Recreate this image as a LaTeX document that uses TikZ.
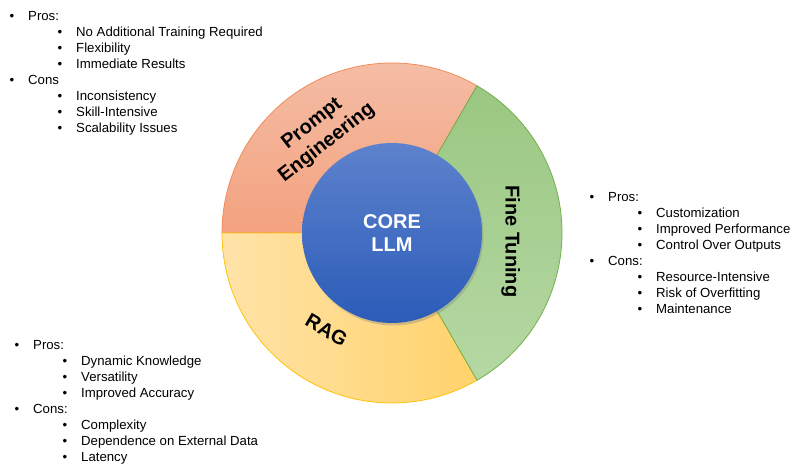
\documentclass[tikz,border=0pt]{standalone}
\usepackage{fontspec}
\setmainfont{Liberation Sans}
\usepackage{enumitem}
\usepackage{xcolor}
\usetikzlibrary{shadows}
\definecolor{pe-top}{HTML}{F5C0AA}
\definecolor{pe-bottom}{HTML}{F3A27F}
\definecolor{pe-line}{HTML}{F08A55}
\definecolor{ft-top}{HTML}{9AC781}
\definecolor{ft-bottom}{HTML}{B5D8A4}
\definecolor{ft-line}{HTML}{70AD47}
\definecolor{rag-left}{HTML}{FFE3A8}
\definecolor{rag-right}{HTML}{FFD26B}
\definecolor{rag-line}{HTML}{FFC000}
\definecolor{core-top}{HTML}{5E82CD}
\definecolor{core-bottom}{HTML}{2B5CB8}
\setlist[itemize]{label=\textbullet, nosep, labelsep=14pt}
\setlist[itemize,1]{leftmargin=16pt}
\setlist[itemize,2]{leftmargin=48pt}
\tikzset{
    ring-part/.style = {draw=#1, line width=0.75pt},
    part-label/.style = {font=\fontsize{20}{24}\selectfont\bfseries, align=center, text=black},
    core-circle/.style = {circle, inner sep=0pt, minimum size=180pt, top color=core-top, bottom color=core-bottom, drop shadow={shadow xshift=1.5pt, shadow yshift=-2.5pt, opacity=0.35}, text=white, font=\fontsize{20}{23}\selectfont\bfseries, align=center},
    notes-box/.style = {inner sep=0pt, anchor=base west, font=\fontsize{13.2}{16}\selectfont},
}
\begin{document}
\begin{tikzpicture}[x=1pt, y=1pt]
\useasboundingbox (0,0) rectangle (793,470);
\coordinate (hub) at (392,237);
\path[ring-part=pe-line, top color=pe-top, bottom color=pe-bottom] (hub) -- ++(60:170) arc[start angle=60, end angle=180, radius=170] -- cycle;
\path[ring-part=rag-line, left color=rag-left, right color=rag-right] (hub) -- ++(180:170) arc[start angle=180, end angle=300, radius=170] -- cycle;
\path[ring-part=ft-line, top color=ft-top, bottom color=ft-bottom] (hub) -- ++(-60:170) arc[start angle=-60, end angle=60, radius=170] -- cycle;
\node[core-circle] (core) at (hub) {CORE\\LLM};
\node[part-label, rotate=38] (pe-label) at ([shift={(126:123)}]hub) {Prompt\\Engineering};
\node[part-label, rotate=-90] (ft-label) at ([shift={(-4:119)}]hub) {Fine Tuning};
\node[part-label, rotate=-30] (rag-label) at ([shift={(236:117)}]hub) {RAG};
\node[notes-box] (pe-notes) at (12,449.5) {\begin{minipage}[t]{260pt}
    \begin{itemize}
        \item Pros:
        \begin{itemize}
            \item No Additional Training Required
            \item Flexibility
            \item Immediate Results
        \end{itemize}
        \item Cons
        \begin{itemize}
            \item Inconsistency
            \item Skill-Intensive
            \item Scalability Issues
        \end{itemize}
    \end{itemize}
\end{minipage}};
\node[notes-box] (ft-notes) at (592,268.5) {\begin{minipage}[t]{200pt}
    \begin{itemize}
        \item Pros:
        \begin{itemize}
            \item Customization
            \item Improved Performance
            \item Control Over Outputs
        \end{itemize}
        \item Cons:
        \begin{itemize}
            \item Resource-Intensive
            \item Risk of Overfitting
            \item Maintenance
        \end{itemize}
    \end{itemize}
\end{minipage}};
\node[notes-box] (rag-notes) at (17,120.5) {\begin{minipage}[t]{260pt}
    \begin{itemize}
        \item Pros:
        \begin{itemize}
            \item Dynamic Knowledge
            \item Versatility
            \item Improved Accuracy
        \end{itemize}
        \item Cons:
        \begin{itemize}
            \item Complexity
            \item Dependence on External Data
            \item Latency
        \end{itemize}
    \end{itemize}
\end{minipage}};
\end{tikzpicture}
\end{document}
